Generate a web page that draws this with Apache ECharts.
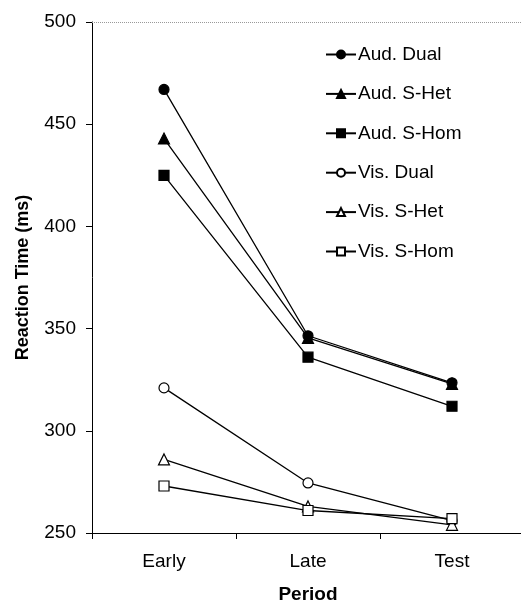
<!DOCTYPE html>
<html>
<head>
<meta charset="utf-8">
<script src="https://cdn.jsdelivr.net/npm/echarts@6/dist/echarts.min.js"></script>
<style>
  html, body { margin: 0; padding: 0; background: #fff; }
  #chart { width: 521px; height: 604px; }
</style>
</head>
<body>
<div id="chart"></div>
<script>
// periods on the x axis
const periods = ['Early', 'Late', 'Test'];
// reaction times (ms)
const audDual = [467, 346.5, 323.5];
const audSHet = [443, 345.5, 323];
const audSHom = [425, 336, 312];
const visDual = [321, 274.5, 256];
const visSHet = [286, 263, 254];
const visSHom = [273, 261, 257];
const yTicks = [250, 300, 350, 400, 450, 500];

const font = 'Liberation Sans, Arial, sans-serif';

function mkSeries(name, data, symbol, filled, size) {
  return {
    name: name,
    type: 'line',
    data: data,
    symbol: symbol,
    symbolSize: size,
    showAllSymbol: true,
    lineStyle: { color: '#000', width: 1.3 },
    itemStyle: {
      color: filled ? '#000' : '#fff',
      borderColor: '#000',
      borderWidth: 1.2
    },
    emphasis: { disabled: true },
    z: filled ? 3 : 2
  };
}

const chart = echarts.init(document.getElementById('chart'));
const option = {
  backgroundColor: '#fff',
  animation: false,
  grid: { left: 92, right: -3, top: 22, bottom: 71, outerBoundsMode: 'none' },
  legend: {
    orient: 'vertical',
    left: 320,
    top: 40,
    itemWidth: 30,
    itemHeight: 10,
    itemGap: 20.4,
    textStyle: { fontFamily: font, fontSize: 19, lineHeight: 19, color: '#000', padding: [0, 0, 0, -3] },
    data: ['Aud. Dual', 'Aud. S-Het', 'Aud. S-Hom', 'Vis. Dual', 'Vis. S-Het', 'Vis. S-Hom']
  },
  xAxis: {
    type: 'category',
    data: periods,
    boundaryGap: true,
    name: 'Period',
    nameLocation: 'middle',
    nameGap: 52,
    nameTextStyle: { fontFamily: font, fontSize: 19, fontWeight: 'bold', color: '#000' },
    axisLine: { lineStyle: { color: '#000', width: 1 } },
    axisTick: { show: true, length: 6, inside: false, lineStyle: { color: '#000' } },
    axisLabel: { fontFamily: font, fontSize: 19, color: '#000', margin: 19 },
    splitLine: { show: false }
  },
  yAxis: {
    type: 'value',
    min: yTicks[0],
    max: yTicks[yTicks.length - 1],
    interval: 50,
    name: 'Reaction Time (ms)',
    nameLocation: 'middle',
    nameGap: 60,
    nameTextStyle: { fontFamily: font, fontSize: 18, fontWeight: 'bold', color: '#000' },
    axisLine: { show: true, lineStyle: { color: '#000', width: 1 } },
    axisTick: { show: true, length: 6, lineStyle: { color: '#000' } },
    axisLabel: { fontFamily: font, fontSize: 19, color: '#000', margin: 16 },
    splitLine: { show: false }
  },
  series: [
    mkSeries('Vis. Dual', visDual, 'circle', false, 10),
    mkSeries('Vis. S-Het', visSHet, 'triangle', false, 11),
    mkSeries('Vis. S-Hom', visSHom, 'rect', false, 10),
    mkSeries('Aud. S-Hom', audSHom, 'rect', true, 10),
    mkSeries('Aud. S-Het', audSHet, 'triangle', true, 11),
    Object.assign(mkSeries('Aud. Dual', audDual, 'circle', true, 10), {
      markLine: {
        silent: true,
        symbol: 'none',
        label: { show: false },
        lineStyle: { color: '#999', type: 'dotted', width: 1 },
        data: [{ yAxis: yTicks[yTicks.length - 1] }]
      }
    })
  ]
};
chart.setOption(option);
</script>
</body>
</html>
